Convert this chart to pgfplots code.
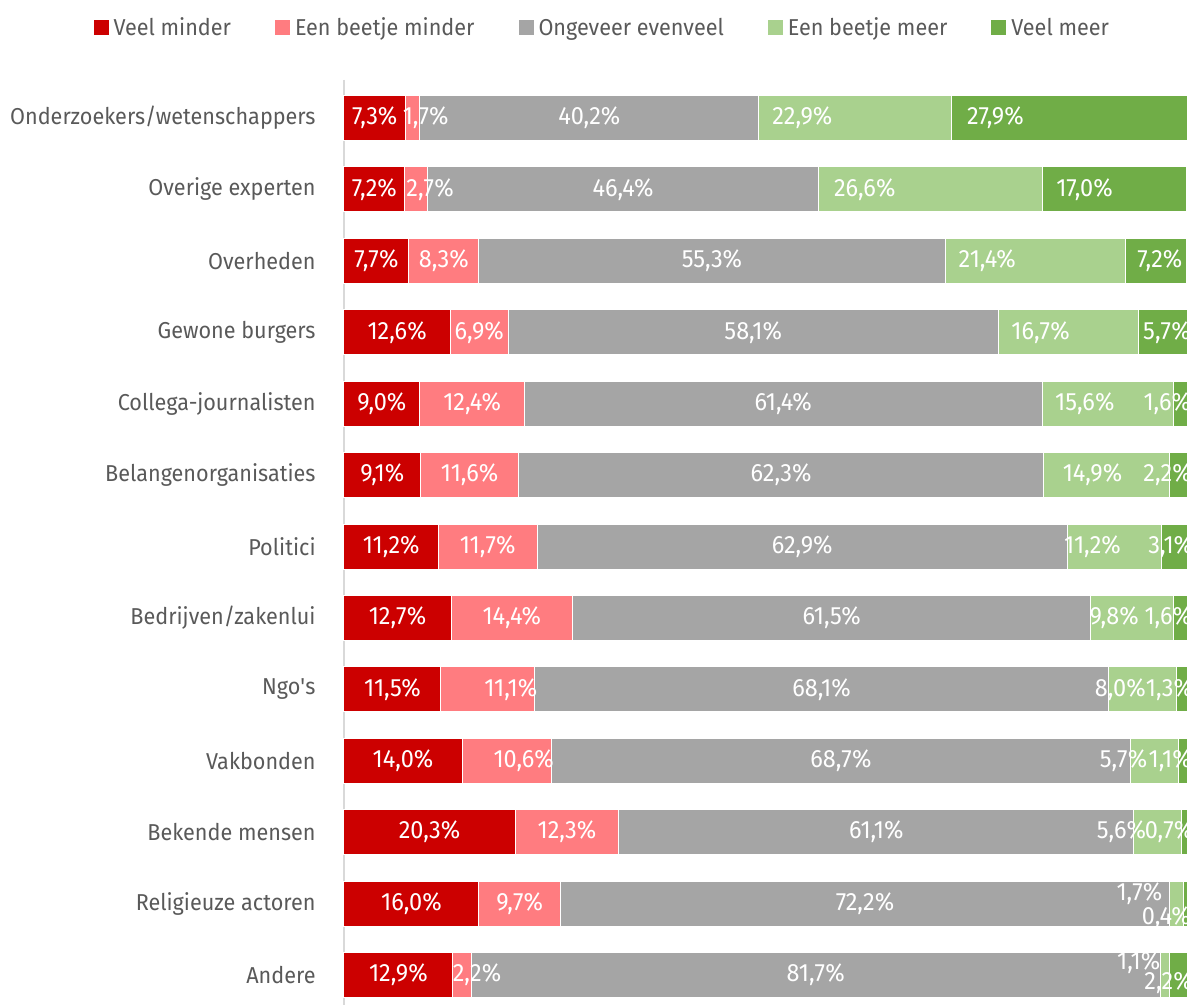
\documentclass[border=0pt]{standalone}
\usepackage{fontspec}
\setmainfont{Fira Sans}[FakeStretch=0.94]
\usepackage{pgfplots}
\usepackage{pgfplotstable}
\pgfplotsset{compat=1.18}

\definecolor{cVM}{HTML}{CC0000}
\definecolor{cBM}{HTML}{FF7C80}
\definecolor{cOE}{HTML}{A5A5A5}
\definecolor{cBMe}{HTML}{A9D18E}
\definecolor{cVMe}{HTML}{70AD47}
\definecolor{txt}{HTML}{595959}

% y = row (0 = top), v = percentage, dx/dy = label nudge in pt
\pgfplotstableread{
y v dx dy
0 7.3 0 0
1 7.2 0 0
2 7.7 0 0
3 12.6 0 0
4 9.0 0 0
5 9.1 0 0
6 11.2 0 0
7 12.7 0 0
8 11.5 0 0
9 14.0 0 0
10 20.3 0 0
11 16.0 0 0
12 12.9 0 0
}\veelminder

\pgfplotstableread{
y v dx dy
0 1.7 6.5 0
1 2.7 7 0
2 8.3 0 0
3 6.9 0 0
4 12.4 0 0
5 11.6 0 0
6 11.7 0 0
7 14.4 0 0
8 11.1 11.5 0
9 10.6 8.5 0
10 12.3 0 0
11 9.7 0 0
12 2.2 7.5 0
}\beetjeminder

\pgfplotstableread{
y v dx dy
0 40.2 0 0
1 46.4 0 0
2 55.3 0 0
3 58.1 0 0
4 61.4 0 0
5 62.3 0 0
6 62.9 0 0
7 61.5 0 0
8 68.1 0 0
9 68.7 0 0
10 61.1 0 0
11 72.2 0 0
12 81.7 0 0
}\evenveel

\pgfplotstableread{
y v dx dy
0 22.9 -26.5 0
1 26.6 -33 0
2 21.4 -24 0
3 16.7 -14 0
4 15.6 -11.5 0
5 14.9 -7 0
6 11.2 -11 0
7 9.8 -9 0
8 8.0 -11 0
9 5.7 -15.5 0
10 5.6 -18 0
11 1.7 -18.5 5
12 1.1 -13 6
}\beetjemeer

\pgfplotstableread{
y v dx dy
0 27.9 -37 0
1 17.0 -15 0
2 7.2 2 0
3 5.7 2 0
4 1.6 -6.5 0
5 2.2 -5.5 0
6 3.1 -2 0
7 1.6 -6 0
8 1.3 -6 0
9 1.1 -6.5 0
10 0.7 -7.5 0
11 0.4 -9.5 -7
12 2.2 -5 -4
}\veelmeer

\begin{document}
\begin{tikzpicture}
\begin{axis}[
  scale only axis,
  width=421.5pt, height=462.5pt,
  xbar stacked,
  bar width=22.5pt,
  xmin=0, xmax=100,
  ymin=-0.532, ymax=12.42,
  y dir=reverse,
  clip=false,
  axis x line=none,
  axis y line*=left,
  y axis line style={draw=black!15, line width=1pt},
  ytick={0,...,12},
  yticklabels={Onderzoekers/wetenschappers, Overige experten, Overheden,
    Gewone burgers, Collega-journalisten, Belangenorganisaties, Politici,
    Bedrijven/zakenlui, Ngo\textquotesingle s, Vakbonden, Bekende mensen,
    Religieuze actoren, Andere},
  major tick length=0pt,
  yticklabel style={font=\fontsize{11.5}{13}\selectfont, text=txt, inner sep=0pt, xshift=-14pt},
  point meta=explicit,
  /pgf/number format/assume math mode=true,
  nodes near coords={\pgfmathprintnumber[fixed,fixed zerofill,precision=1,use comma]{\pgfplotspointmeta}\%},
  visualization depends on={\thisrow{dx} \as \dx},
  visualization depends on={\thisrow{dy} \as \dy},
  every node near coord/.append style={anchor=center, text=white, inner sep=0pt,
    font=\fontsize{12.5}{14}\selectfont,
    xshift={\dx pt}, yshift={\dy pt}},
  legend style={at={(0.307,1)}, anchor=center, yshift=26pt, draw=none,
    legend columns=-1, font=\fontsize{11.5}{13}\selectfont, text=txt,
    /tikz/every even column/.append style={column sep=19.5pt}},
  legend image code/.code={\fill[#1] (0pt,-4pt) rectangle (8pt,4pt);},
]
\addplot[fill=cVM, draw=white, line width=0.5pt] table[x=v, y=y, meta=v] {\veelminder};
\addplot[fill=cBM, draw=white, line width=0.5pt] table[x=v, y=y, meta=v] {\beetjeminder};
\addplot[fill=cOE, draw=white, line width=0.5pt] table[x=v, y=y, meta=v] {\evenveel};
\addplot[fill=cBMe, draw=white, line width=0.5pt] table[x=v, y=y, meta=v] {\beetjemeer};
\addplot[fill=cVMe, draw=white, line width=0.5pt] table[x=v, y=y, meta=v] {\veelmeer};
\legend{Veel minder, Een beetje minder, Ongeveer evenveel, Een beetje meer, Veel meer}
\end{axis}
\pgfresetboundingbox
\path ([xshift=-172pt]current axis.south west) rectangle ([xshift=424pt, yshift=502.5pt]current axis.south west);
\end{tikzpicture}
\end{document}
